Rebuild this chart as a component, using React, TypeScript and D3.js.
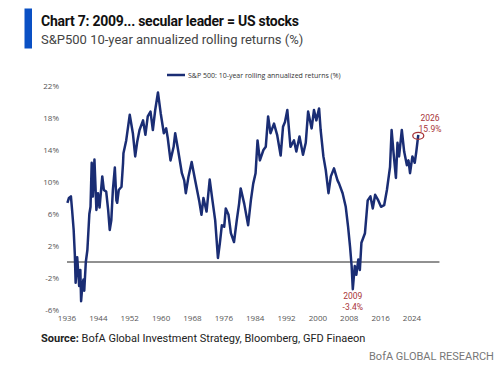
import React from "react";
import * as d3 from "d3";

const years = [
  1936.1, 1936.5, 1937.0, 1937.3, 1937.7, 1938.0, 1938.2, 1938.6, 1938.9, 1939.1,
  1939.4, 1939.6, 1939.9, 1940.2, 1940.4, 1940.8, 1941.2, 1941.7, 1942.0, 1942.3,
  1942.6, 1943.0, 1943.5, 1943.9, 1944.3, 1945.0, 1945.4, 1946.0, 1946.5, 1946.9,
  1947.3, 1947.7, 1948.2, 1948.6, 1948.8, 1949.2, 1949.9, 1950.3, 1950.4, 1951.1,
  1952.0, 1952.8, 1953.4, 1953.9, 1954.5, 1955.4, 1956.0, 1956.6, 1957.3, 1957.9,
  1958.5, 1959.2, 1959.9, 1960.7, 1961.3, 1961.7, 1962.4, 1963.2, 1963.6, 1964.2,
  1965.3, 1965.9, 1966.3, 1967.0, 1967.8, 1968.7, 1969.7, 1970.3, 1970.8, 1971.6,
  1972.4, 1973.1, 1973.8, 1974.5, 1975.0, 1975.5, 1976.1, 1976.5, 1977.2, 1977.8,
  1978.6, 1979.3, 1979.9, 1980.3, 1981.2, 1982.2, 1982.9, 1983.5, 1984.1, 1984.6,
  1985.2, 1986.1, 1986.7, 1987.3, 1987.9, 1988.8, 1989.6, 1990.5, 1991.1, 1991.6,
  1992.2, 1993.0, 1993.9, 1994.5, 1995.3, 1996.2, 1996.9, 1997.5, 1998.4, 1999.0,
  1999.6, 2000.3, 2000.7, 2001.4, 2002.0, 2002.7, 2003.3, 2004.1, 2005.0, 2005.4,
  2006.3, 2007.1, 2007.7, 2008.2, 2008.6, 2008.9, 2009.4, 2009.8, 2010.3, 2010.7,
  2011.1, 2012.0, 2012.7, 2013.4, 2014.0, 2014.6, 2015.4, 2016.1, 2016.9, 2017.6,
  2018.4, 2018.8, 2019.3, 2019.9, 2020.3, 2020.7, 2021.4, 2022.0, 2022.7, 2023.1,
  2023.5, 2024.1, 2024.7, 2025.1, 2025.6,
];

const returns = [
  7.4, 8.0, 8.2, 6.5, 4.0, 0.9, -2.6, 0.6, -1.5, -3.0,
  -1.0, -4.9, -3.0, -2.2, -3.6, 0.0, 1.5, 6.0, 6.9, 12.4,
  8.2, 12.8, 6.5, 8.6, 6.8, 10.7, 9.0, 8.8, 6.5, 4.0,
  5.2, 9.0, 11.8, 7.7, 7.4, 9.0, 9.4, 12.4, 13.6, 15.2,
  18.4, 16.1, 13.2, 15.0, 16.5, 17.7, 15.9, 18.2, 18.8, 16.5,
  19.0, 21.2, 18.6, 16.1, 16.7, 15.5, 12.7, 14.4, 16.1, 14.4,
  11.1, 10.2, 8.6, 10.7, 12.5, 10.2, 7.7, 5.9, 8.0, 6.3,
  10.3, 7.7, 5.2, 0.5, 2.4, 4.6, 4.4, 6.7, 5.9, 3.6,
  2.5, 5.2, 7.3, 9.2, 7.3, 4.6, 7.7, 9.8, 11.1, 15.2,
  12.7, 14.0, 14.4, 18.2, 16.1, 17.3, 15.9, 13.3, 16.9, 17.5,
  19.0, 14.4, 15.2, 13.8, 15.7, 13.4, 14.9, 18.8, 16.7, 19.0,
  17.7, 19.2, 16.5, 13.2, 11.5, 8.6, 10.7, 11.7, 10.2, 9.8,
  8.6, 6.9, 4.4, 1.9, -0.5, -3.4, -0.5, -1.6, 0.3, -1.0,
  2.4, 3.6, 7.7, 8.2, 6.7, 8.4, 7.7, 6.9, 7.1, 9.0,
  11.9, 16.5, 13.6, 10.5, 14.9, 13.2, 16.5, 13.8, 12.1, 12.7,
  11.1, 13.2, 12.4, 13.8, 15.9,
];

const xTicks = [1936, 1944, 1952, 1960, 1968, 1976, 1984, 1992, 2000, 2008, 2016, 2024];
const yTicks = [-6, -2, 2, 6, 10, 14, 18, 22];

const W = 500;
const H = 370;

export default function App() {
  const x = d3.scaleLinear().domain([1936, 2024]).range([67, 412]);
  const y = d3.scaleLinear().domain([-6, 22]).range([310, 86]);
  const pts = years.map((yr, i) => [yr, returns[i]] as [number, number]);
  const line = d3
    .line<[number, number]>()
    .x((d) => x(d[0]))
    .y((d) => y(d[1]));
  const lastIdx = years.length - 1;
  const minIdx = returns.indexOf(d3.min(returns.slice(100)) as number, 100);
  const navy = "#1a2d74";
  const red = "#a8353a";
  const font = "'Open Sans', 'Noto Sans', sans-serif";
  const annFont = "'Roboto', sans-serif";

  return (
    <svg
      width={W}
      height={H}
      style={{ position: "absolute", left: 0, top: 0, background: "#fff" }}
      fontFamily={font}
    >
      <rect x={0} y={0} width={W} height={H} fill="#fff" />
      {/* title */}
      <rect x={24.5} y={8.5} width={7.5} height={40} fill="#0a50c4" />
      <text x={41} y={26} fontSize={14} fontWeight={700} fill="#111" fontFamily="'Roboto', sans-serif" letterSpacing={-0.25}>
        Chart 7: 2009... secular leader = US stocks
      </text>
      <text x={41} y={44} fontSize={13} fill="#444" fontFamily="'Roboto', sans-serif">
        S&amp;P500 10-year annualized rolling returns (%)
      </text>

      {/* legend */}
      <line x1={167} x2={185} y1={75} y2={75} stroke={navy} strokeWidth={2.5} />
      <text x={188} y={77.5} fontSize={7} fill="#333">
        S&amp;P 500: 10-year rolling annualized returns (%)
      </text>

      {/* y tick labels */}
      {yTicks.map((t) => (
        <text key={t} x={59} y={y(t)} dy="0.35em" textAnchor="end" fontSize={8} fill="#555">
          {t}%
        </text>
      ))}
      {/* x tick labels */}
      {xTicks.map((t) => (
        <text key={t} x={x(t)} y={321} textAnchor="middle" fontSize={8} fill="#555">
          {t}
        </text>
      ))}

      {/* zero line */}
      <line x1={67} x2={x(2031)} y1={y(0)} y2={y(0)} stroke="#222" strokeWidth={1} />

      {/* series */}
      <path d={line(pts) || ""} fill="none" stroke={navy} strokeWidth={2.5} strokeLinejoin="round" />

      {/* annotations */}
      <ellipse
        cx={x(years[lastIdx])}
        cy={y(returns[lastIdx]) + 1}
        rx={5.5}
        ry={3.5}
        fill="none"
        stroke={red}
        strokeWidth={1.3}
      />
      <text x={430} y={121} textAnchor="middle" fontSize={8.5} fill={red} fontFamily={annFont}>
        2026
      </text>
      <text x={430} y={132} textAnchor="middle" fontSize={8.5} fill={red} fontFamily={annFont}>
        {returns[lastIdx].toFixed(1)}%
      </text>
      <text x={x(years[minIdx])} y={298.5} textAnchor="middle" fontSize={8.5} fill={red} fontFamily={annFont}>
        2009
      </text>
      <text x={x(years[minIdx])} y={309.5} textAnchor="middle" fontSize={8.5} fill={red} fontFamily={annFont}>
        {returns[minIdx].toFixed(1)}%
      </text>

      {/* footer */}
      <text x={41} y={342} fontSize={11} fill="#222" fontFamily="'Roboto', sans-serif">
        <tspan fontWeight={700}>Source:</tspan>
        <tspan> BofA Global Investment Strategy, Bloomberg, GFD Finaeon</tspan>
      </text>
      <text x={369} y={360} fontSize={11} fill="#777" fontFamily="'Roboto', sans-serif">
        BofA GLOBAL RESEARCH
      </text>
    </svg>
  );
}
